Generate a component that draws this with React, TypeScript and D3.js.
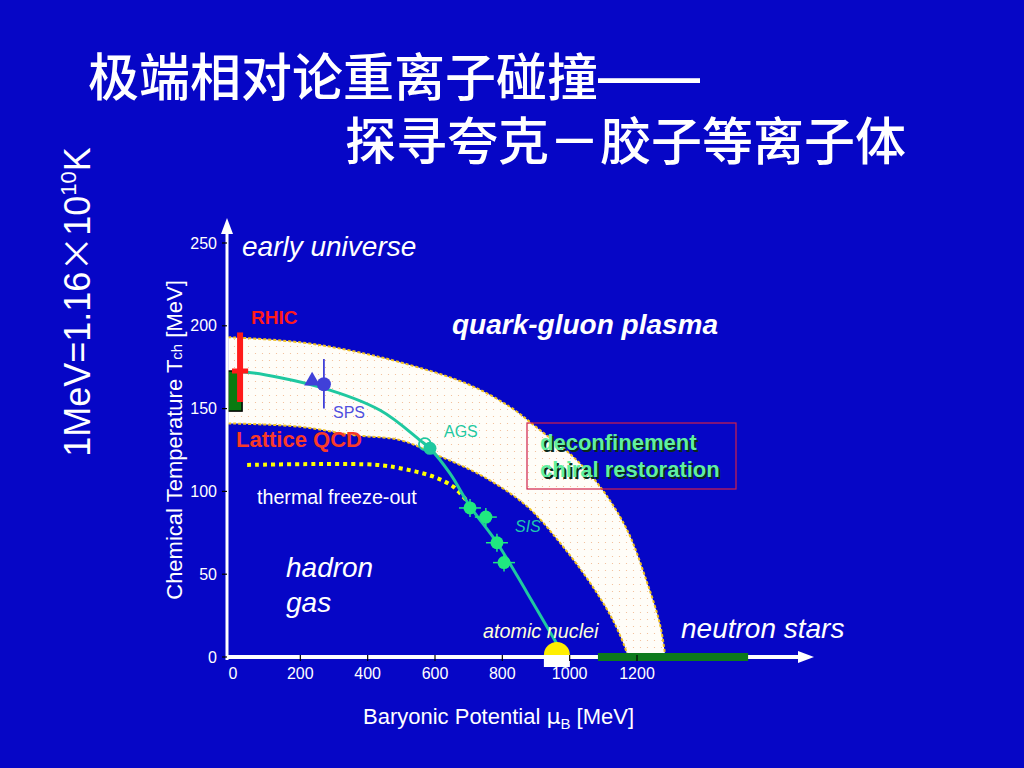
import * as d3 from 'd3';

// axis ticks
const xTicks = [0, 200, 400, 600, 800, 1000, 1200];
const yTicks = [0, 50, 100, 150, 200, 250];

// QGP transition band edges [muB, T]
const bandOuter: [number, number][] = [
  [-14, 193], [0, 193], [200, 190], [350, 185], [496, 178], [695, 165], [823, 151],
  [912, 137], [1010, 121], [1090, 103], [1170, 77], [1230, 45], [1268, 20], [1283, 2], [1285, -2],
];
const bandInner: [number, number][] = [
  [-14, 141], [0, 141], [200, 139], [356, 134], [496, 131], [594, 123], [743, 109],
  [873, 91], [971, 69], [1060, 45], [1129, 22], [1170, 2], [1172, -2],
];

// chemical freeze-out curve and thermal freeze-out curve
const chemFreeze: [number, number][] = [
  [0, 172], [42, 172], [258, 163], [437, 149], [555, 131], [585, 126], [644, 111],
  [704, 91], [784, 69], [873, 39], [962, 8],
];
const thermalFreeze: [number, number][] = [
  [42, 116], [250, 116.5], [428, 116], [496, 114], [594, 109], [653, 103], [683, 97], [695, 94],
];

// experimental points
const spsTriangle: [number, number] = [235, 166.7];
const spsCircle: [number, number] = [270, 164.7];
const spsErr: [number, number] = [150, 180];
const agsOpen: [number, number] = [570, 128.6];
const agsFilled: [number, number] = [585, 126];
const sisPoints: [number, number][] = [[704, 90], [751, 84.5], [784, 69], [805, 57]];
const rhic = { mu: 21, t: 172.7, tLow: 154, tHigh: 196, muLow: -3, muHigh: 45 };
const lattice = { muLow: -15, muHigh: 27, tLow: 148.5, tHigh: 172.7 };
const nuclei: [number, number] = [962, 0];
const neutronStars: [number, number] = [1084, 1530];

const W = 1024;
const H = 768;
const BG = '#0606c6';
const SANS = '"Liberation Sans", Arial, Helvetica, sans-serif';
const CJK = '"Noto Sans CJK SC", sans-serif';

const x = d3.scaleLinear().domain([0, 1200]).range([233, 637]);
const y = d3.scaleLinear().domain([0, 250]).range([657, 243]);

const line = d3.line<[number, number]>().x(d => x(d[0])).y(d => y(d[1])).curve(d3.curveCatmullRom);

export default function App() {
  const axisX = 227;
  const axisY = y(0);

  const bandPath =
    line(bandOuter)! +
    'L' + line([...bandInner].reverse())!.slice(1) + 'Z';

  const tri = d3.symbol().type(d3.symbolTriangle).size(110)()!;

  return (
    <svg width={W} height={H} style={{ position: 'absolute', left: 0, top: 0, display: 'block' }}>
      <defs>
        <pattern id="dots" width={7} height={7} patternUnits="userSpaceOnUse">
          <rect width={7} height={7} fill="#fffdf8" />
          <circle cx={3.5} cy={3.5} r={0.6} fill="#f2b890" />
        </pattern>
        <clipPath id="topHalf">
          <rect x={x(nuclei[0]) - 20} y={y(nuclei[1]) - 20} width={40} height={18} />
        </clipPath>
      </defs>
      <rect width={W} height={H} fill={BG} />

      {/* title */}
      <text x={88} y={96} fill="#fff" fontFamily={CJK} fontSize={51} fontWeight={500}>极端相对论重离子碰撞</text>
      <text x={598} y={94} fill="#fff" fontFamily={SANS} fontSize={48} fontWeight="bold" textLength={102} lengthAdjust="spacingAndGlyphs">——</text>
      <text x={345} y={160} fill="#fff" fontFamily={CJK} fontSize={51} fontWeight={500}>探寻夸克－胶子等离子体</text>

      {/* side note */}
      <text transform="translate(90,302) rotate(-90)" textAnchor="middle" fill="#fff" fontFamily={SANS} fontSize={36}>
        1MeV=1.16<tspan fontFamily={CJK}>×</tspan>10<tspan fontSize={22} dy={-14}>10</tspan><tspan dy={14}>K</tspan>
      </text>

      {/* QGP band */}
      <path d={bandPath} fill="url(#dots)" />
      <path d={line(bandOuter)!} fill="none" stroke="#f0c020" strokeWidth={2} strokeDasharray="3 2" />
      <path d={line(bandInner)!} fill="none" stroke="#f0c020" strokeWidth={2} strokeDasharray="3 2" />

      {/* thermal freeze-out */}
      <path d={line(thermalFreeze)!} fill="none" stroke="#ffff00" strokeWidth={4} strokeDasharray="4 4" />

      {/* chemical freeze-out curve */}
      <path d={line(chemFreeze)!} fill="none" stroke="#1fc8a0" strokeWidth={3} />

      {/* lattice QCD box */}
      <rect
        x={x(lattice.muLow)} y={y(lattice.tHigh)}
        width={x(lattice.muHigh) - x(lattice.muLow)} height={y(lattice.tLow) - y(lattice.tHigh)}
        fill="#0a7a10" stroke="#000" strokeWidth={1.5}
      />
      {/* RHIC */}
      <line x1={x(rhic.mu)} x2={x(rhic.mu)} y1={y(rhic.tLow)} y2={y(rhic.tHigh)} stroke="#ff1a1a" strokeWidth={6} />
      <line x1={x(rhic.muLow)} x2={x(rhic.muHigh)} y1={y(rhic.t)} y2={y(rhic.t)} stroke="#ff1a1a" strokeWidth={5} />

      {/* SPS */}
      <line x1={x(spsCircle[0])} x2={x(spsCircle[0])} y1={y(spsErr[0])} y2={y(spsErr[1])} stroke="#4040d8" strokeWidth={1.8} />
      <path d={tri} transform={`translate(${x(spsTriangle[0])},${y(spsTriangle[1])})`} fill="#4040d8" />
      <circle cx={x(spsCircle[0])} cy={y(spsCircle[1])} r={7} fill="#4040d8" />

      {/* AGS */}
      <circle cx={x(agsOpen[0])} cy={y(agsOpen[1])} r={6} fill="none" stroke="#1fc8a0" strokeWidth={1.8} />
      <circle cx={x(agsFilled[0])} cy={y(agsFilled[1])} r={6.5} fill="#1fc8a0" />

      {/* SIS */}
      {sisPoints.map((p, i) => (
        <g key={i}>
          <line x1={x(p[0]) - 11} x2={x(p[0]) + 11} y1={y(p[1])} y2={y(p[1])} stroke="#20e880" strokeWidth={1.5} />
          <line x1={x(p[0])} x2={x(p[0])} y1={y(p[1]) - 9} y2={y(p[1]) + 9} stroke="#20e880" strokeWidth={1.5} />
          <circle cx={x(p[0])} cy={y(p[1])} r={6.5} fill="#20e880" />
        </g>
      ))}

      {/* axes */}
      <line x1={axisX} x2={axisX} y1={axisY + 3} y2={232} stroke="#fff" strokeWidth={3} />
      <path d={`M${axisX - 6},234 L${axisX},218 L${axisX + 6},234 Z`} fill="#fff" />
      <line x1={axisX - 1} x2={800} y1={axisY} y2={axisY} stroke="#fff" strokeWidth={4} />
      <path d={`M798,${axisY - 6} L814,${axisY} L798,${axisY + 6} Z`} fill="#fff" />

      {/* neutron stars */}
      <line x1={x(neutronStars[0])} x2={x(neutronStars[1])} y1={axisY} y2={axisY} stroke="#0d7a1c" strokeWidth={8} />

      {/* atomic nuclei */}
      <rect x={x(nuclei[0]) - 13} y={y(nuclei[1]) - 2} width={26} height={12} fill="#fff" />
      <circle cx={x(nuclei[0])} cy={y(nuclei[1]) - 2} r={13} fill="#ffee00" clipPath="url(#topHalf)" />

      {/* ticks */}
      {yTicks.map(t => (
        <g key={`y${t}`}>
          <line x1={axisX - 5} x2={axisX} y1={y(t)} y2={y(t)} stroke="#000" strokeWidth={1.2} />
          <text x={217} y={y(t)} dy="0.35em" textAnchor="end" fill="#fff" fontFamily={SANS} fontSize={16}>{t}</text>
        </g>
      ))}
      {xTicks.map(t => (
        <g key={`x${t}`}>
          {t > 0 && <line x1={x(t)} x2={x(t)} y1={axisY - 2} y2={axisY + 4} stroke="#000" strokeWidth={1.2} />}
          <text x={x(t)} y={679} textAnchor="middle" fill="#fff" fontFamily={SANS} fontSize={16}>{t}</text>
        </g>
      ))}

      {/* axis titles */}
      <text transform="translate(182,440) rotate(-90)" textAnchor="middle" fill="#fff" fontFamily={SANS} fontSize={22}>
        Chemical Temperature T<tspan fontSize={15}>ch</tspan> [MeV]
      </text>
      <text x={363} y={724} fill="#fff" fontFamily={SANS} fontSize={22}>
        Baryonic Potential <tspan fontFamily="DejaVu Sans">μ</tspan><tspan fontSize={15} dy={5}>B</tspan><tspan dy={-5}> [MeV]</tspan>
      </text>

      {/* annotations */}
      <text x={242} y={256} fill="#fff" fontFamily={SANS} fontSize={28} fontStyle="italic">early universe</text>
      <text x={251} y={324} fill="#ff1a1a" fontFamily={SANS} fontSize={19} fontWeight="bold">RHIC</text>
      <text x={452} y={334} fill="#fff" fontFamily={SANS} fontSize={28} fontWeight="bold" fontStyle="italic">quark-gluon plasma</text>
      <text x={333} y={418} fill="#5050e0" fontFamily={SANS} fontSize={16}>SPS</text>
      <text x={444} y={437} fill="#1fc8a0" fontFamily={SANS} fontSize={16}>AGS</text>
      <text x={236} y={447} fill="#f83a28" fontFamily={SANS} fontSize={22} fontWeight="bold">Lattice QCD</text>
      <text x={257} y={504} fill="#fff" fontFamily={SANS} fontSize={19.7}>thermal freeze-out</text>
      <text x={515} y={532} fill="#1fc8b0" fontFamily={SANS} fontSize={16} fontStyle="italic">SIS</text>
      <text x={286} y={577} fill="#fff" fontFamily={SANS} fontSize={28} fontStyle="italic">hadron</text>
      <text x={286} y={612} fill="#fff" fontFamily={SANS} fontSize={28} fontStyle="italic">gas</text>
      <text x={483} y={638} fill="#ffffd8" fontFamily={SANS} fontSize={19.8} fontStyle="italic">atomic nuclei</text>
      <text x={681} y={638} fill="#fff" fontFamily={SANS} fontSize={28} fontStyle="italic">neutron stars</text>

      <rect x={527} y={423} width={209} height={66} fill="none" stroke="#d0204a" strokeWidth={1.2} />
      <g fontFamily={SANS} fontSize={22} fontWeight="bold">
        <text x={542} y={452} fill="#0a2a18">deconfinement</text>
        <text x={542} y={479} fill="#0a2a18">chiral restoration</text>
        <text x={540} y={450} fill="#60f0a0">deconfinement</text>
        <text x={540} y={477} fill="#60f0a0">chiral restoration</text>
      </g>
    </svg>
  );
}
